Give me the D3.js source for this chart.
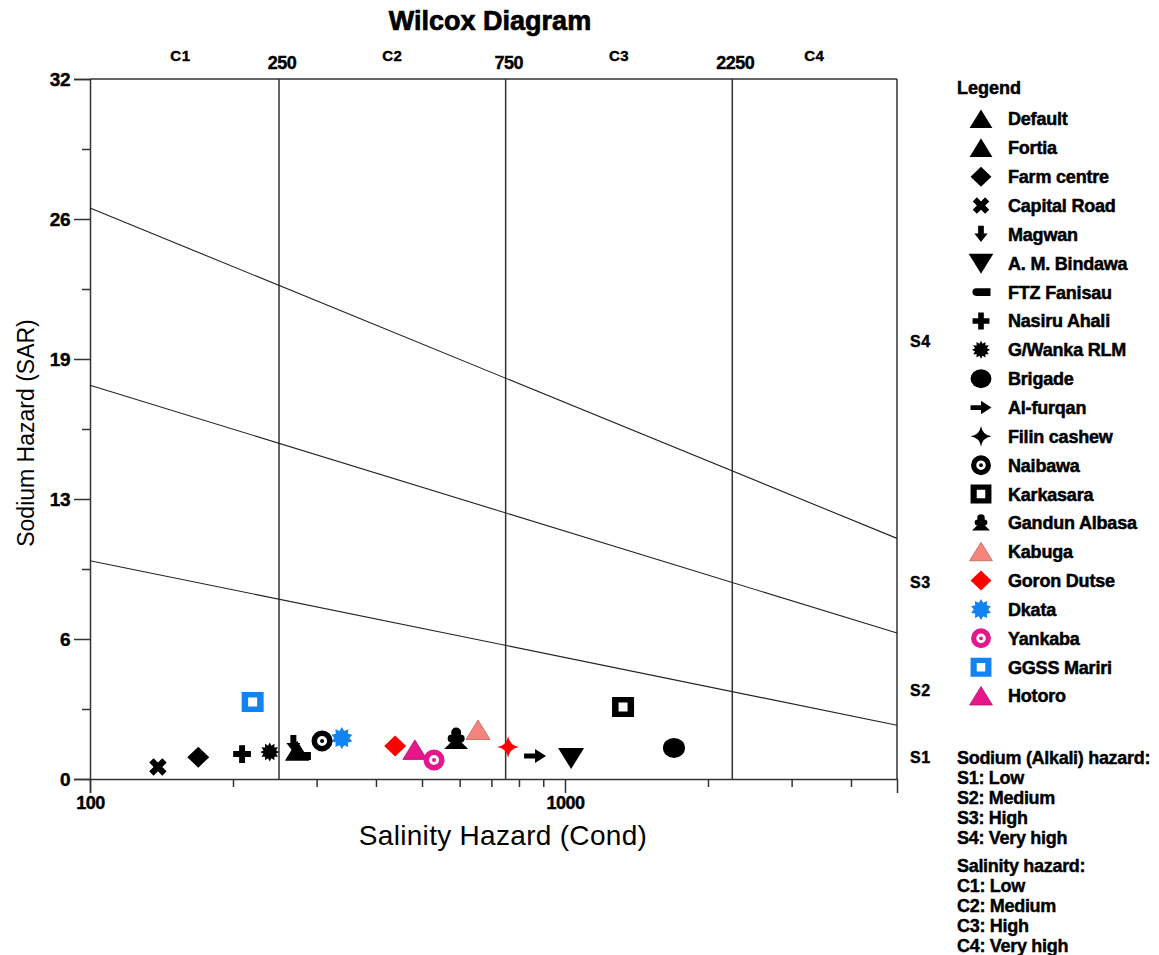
<!DOCTYPE html>
<html>
<head>
<meta charset="utf-8">
<script src="https://cdn.jsdelivr.net/npm/d3@7"></script>
<style>
  html, body { margin: 0; padding: 0; background: #fff; }
  svg text { font-family: "Liberation Sans", Arial, sans-serif; fill: #000; }
</style>
</head>
<body>
<svg id="chart" width="1159" height="955"></svg>
<script>
// Sample sites, their conductivity (µS/cm) and sodium adsorption ratio
const sites = ["Default", "Fortia", "Farm centre", "Capital Road", "Magwan", "A. M. Bindawa",
  "FTZ Fanisau", "Nasiru Ahali", "G/Wanka RLM", "Brigade", "Al-furqan", "Filin cashew",
  "Naibawa", "Karkasara", "Gandun Albasa", "Kabuga", "Goron Dutse", "Dkata", "Yankaba",
  "GGSS Mariri", "Hotoro"];
const conductivity = [273, 273, 169, 139, 268, 1030, 278, 209, 239, 1696, 865, 759,
  308, 1325, 590, 656, 439, 339, 530, 220, 483];
const sar = [1.28, 1.28, 1.0, 0.55, 1.6, 0.96, 1.05, 1.14, 1.23, 1.42, 1.05, 1.46,
  1.74, 3.29, 1.83, 2.24, 1.51, 1.87, 0.87, 3.52, 1.33];
const shapes = ["triUp", "triUp", "diamond", "xcross", "arrowDown", "triDown",
  "pill", "plus", "burst", "ellipse", "arrowRight", "star4",
  "ring", "sqRing", "club", "triUp", "diamond", "burstBig", "ring", "sqRing", "triUp"];
const markColors = ["#000", "#000", "#000", "#000", "#000", "#000", "#000", "#000", "#000",
  "#000", "#000", "#ff0000", "#000", "#000", "#000", "#f4847c", "#ff0000", "#1283f2",
  "#e6178a", "#1283f2", "#e6178a"];
const legendColors = ["#000", "#000", "#000", "#000", "#000", "#000", "#000", "#000", "#000",
  "#000", "#000", "#000", "#000", "#000", "#000", "#f4847c", "#ff0000", "#1283f2",
  "#e6178a", "#1283f2", "#e6178a"];

// Axis ticks
const yTicks = [0, 6.4, 12.8, 19.2, 25.6, 32];
const yTickLabels = ["0", "6", "13", "19", "26", "32"];
const yMinorTicks = [3.2, 9.6, 16, 22.4, 28.8];
const xMajorTicks = [100, 1000];
const xMinorTicks = [200, 300, 400, 500, 600, 700, 800, 900, 2000, 3000, 4000];

// Salinity class boundaries and class labels
const salinityBounds = [250, 750, 2250];
const salinityClasses = ["C1", "C2", "C3", "C4"];
const salinityClassAt = [155, 433, 1300, 3350];

// Sodium hazard boundary lines (conductivity, SAR end points)
const sodiumLines = [
  [[100, 9.98], [5000, 2.46]],
  [[100, 18.0], [5000, 6.67]],
  [[100, 26.1], [5000, 11.0]]
];
const sodiumClasses = ["S1", "S2", "S3", "S4"];
const sodiumClassAt = [1.0, 4.07, 9.0, 20.0];

const sodiumNotes = ["Sodium (Alkali) hazard:", "S1: Low", "S2: Medium", "S3: High", "S4: Very high"];
const salinityNotes = ["Salinity hazard:", "C1: Low", "C2: Medium", "C3: High", "C4: Very high"];

const svg = d3.select("#chart");
const pL = 90, pR = 897, pT = 79, pB = 779;

const x = d3.scaleLog().domain([100, 5000]).range([pL, pR]);
const y = d3.scaleLinear().domain([0, 32]).range([pB, pT]);

const lineCol = "#333";

// Bold label helper
function bold(sel, size, sw) {
  return sel.style("font-size", size + "px").style("font-weight", "bold")
    .attr("stroke", "#000").attr("stroke-width", sw == null ? 0.4 : sw);
}

// Title
bold(svg.append("text").attr("x", 490).attr("y", 30).attr("text-anchor", "middle"), 27, 0.7)
  .text("Wilcox Diagram");

// Plot frame: top and right edges
svg.append("line").attr("x1", pL).attr("x2", pR).attr("y1", pT).attr("y2", pT)
  .attr("stroke", lineCol).attr("stroke-width", 1.5);
svg.append("line").attr("x1", pR).attr("x2", pR).attr("y1", pT).attr("y2", pB)
  .attr("stroke", lineCol).attr("stroke-width", 1.5);

// Left axis (SAR)
const yAxis = d3.axisLeft(y).tickValues(yTicks).tickSize(16).tickPadding(4)
  .tickFormat((d, i) => yTickLabels[i]);
const gy = svg.append("g").attr("transform", `translate(${pL},0)`).call(yAxis);
gy.select(".domain").attr("stroke", lineCol).attr("stroke-width", 1.5);
gy.selectAll(".tick line").attr("stroke", lineCol).attr("stroke-width", 1.5);
bold(gy.selectAll(".tick text"), 19).attr("font-family", null)
  .style("letter-spacing", "-0.5px").attr("dy", "0.36em").attr("x", -20);
const yMinor = d3.axisLeft(y).tickValues(yMinorTicks).tickSize(8).tickFormat("");
const gy2 = svg.append("g").attr("transform", `translate(${pL},0)`).call(yMinor);
gy2.select(".domain").remove();
gy2.selectAll(".tick line").attr("stroke", lineCol).attr("stroke-width", 1.5);

// Bottom axis (conductivity)
const xAxis = d3.axisBottom(x).tickValues(xMajorTicks).tickSize(14).tickPadding(3)
  .tickFormat(d3.format("d"));
const gx = svg.append("g").attr("transform", `translate(0,${pB})`).call(xAxis);
gx.select(".domain").attr("stroke", lineCol).attr("stroke-width", 1.5);
gx.selectAll(".tick line").attr("stroke", lineCol).attr("stroke-width", 1.5);
bold(gx.selectAll(".tick text"), 18).attr("font-family", null).style("letter-spacing", "-0.5px");
const xMinor = d3.axisBottom(x).tickValues(xMinorTicks).tickSize(8).tickFormat("");
const gx2 = svg.append("g").attr("transform", `translate(0,${pB})`).call(xMinor);
gx2.select(".domain").remove();
gx2.selectAll(".tick line").attr("stroke", lineCol).attr("stroke-width", 1.5);

// Axis titles
svg.append("text").attr("transform", `translate(34,433) rotate(-90)`).attr("text-anchor", "middle")
  .style("font-size", "23px").text("Sodium Hazard (SAR)");
svg.append("text").attr("x", 503).attr("y", 845).attr("text-anchor", "middle")
  .style("font-size", "28px").style("letter-spacing", "0.3px").text("Salinity Hazard (Cond)");

// Salinity class boundaries
svg.append("g").selectAll("line").data(salinityBounds).join("line")
  .attr("x1", d => x(d)).attr("x2", d => x(d)).attr("y1", pT).attr("y2", pB)
  .attr("stroke", lineCol).attr("stroke-width", 1.5);
bold(svg.append("g").selectAll("text").data(salinityBounds).join("text")
  .attr("x", d => x(d) + 3).attr("y", 69).attr("text-anchor", "middle"), 18)
  .style("letter-spacing", "-0.5px")
  .text(d => d);
bold(svg.append("g").selectAll("text").data(salinityClasses).join("text")
  .attr("x", (d, i) => x(salinityClassAt[i])).attr("y", 61).attr("text-anchor", "middle"), 15)
  .style("letter-spacing", "0.5px")
  .text(d => d);

// Sodium hazard boundary lines
const lineGen = d3.line().x(d => x(d[0])).y(d => y(d[1]));
svg.append("g").selectAll("path").data(sodiumLines).join("path")
  .attr("d", lineGen).attr("fill", "none").attr("stroke", "#222").attr("stroke-width", 1.1);
bold(svg.append("g").selectAll("text").data(sodiumClasses).join("text")
  .attr("x", 910).attr("y", (d, i) => y(sodiumClassAt[i])).attr("dy", "0.36em"), 16)
  .style("letter-spacing", "0.5px")
  .text(d => d);

// Marker drawing
function starPath(n, ro, ri, rot) {
  const pts = [];
  for (let k = 0; k < 2 * n; k++) {
    const r = k % 2 === 0 ? ro : ri;
    const a = rot + Math.PI * k / n;
    pts.push([r * Math.sin(a), -r * Math.cos(a)]);
  }
  return "M" + pts.map(p => p[0].toFixed(2) + "," + p[1].toFixed(2)).join("L") + "Z";
}
function circlePath(cx, cy, r) {
  return `M${cx - r},${cy}A${r},${r} 0 1 0 ${cx + r},${cy}A${r},${r} 0 1 0 ${cx - r},${cy}Z`;
}
function drawMarker(g, shape, color, s) {
  const inner = g.append("g").attr("transform", `scale(${s})`);
  const p = (d) => inner.append("path").attr("d", d).attr("fill", color);
  switch (shape) {
    case "triUp":
      p("M0,-10L12,9.5L-12,9.5Z").attr("stroke", color === "#000" ? "none" : d3.color(color).darker(0.8))
        .attr("stroke-width", 0.8);
      break;
    case "triDown": p("M-13,-10L13,-10L0,11Z"); break;
    case "diamond": p("M0,-10.5L11,0L0,10.5L-11,0Z"); break;
    case "xcross": p(d3.symbol(d3.symbolCross, 190)()).attr("transform", "rotate(45)"); break;
    case "plus": p(d3.symbol(d3.symbolCross, 175)()); break;
    case "arrowDown": p("M-3,-9L3,-9L3,-1L7,-1L0,8L-7,-1L-3,-1Z"); break;
    case "arrowRight": p("M-11,-2.5L0,-2.5L0,-7L11,0L0,7L0,2.5L-11,2.5Z"); break;
    case "pill": p("M-5,-4L10,-4L10,4L-5,4A4,4 0 0 1 -5,-4Z"); break;
    case "burst": p(starPath(12, 9.5, 6.5, 0)); break;
    case "burstBig": p(starPath(10, 11, 7.5, 0)); break;
    case "star4": p("M0,-11Q1.5,-1.5 11,0Q1.5,1.5 0,11Q-1.5,1.5 -11,0Q-1.5,-1.5 0,-11Z"); break;
    case "ellipse": inner.append("ellipse").attr("rx", 11).attr("ry", 10).attr("fill", color); break;
    case "ring":
      p(circlePath(0, 0, 10.5) + circlePath(0, 0, 5)).attr("fill-rule", "evenodd");
      p(circlePath(0, 0, 2));
      break;
    case "sqRing":
      p("M-11,-10L11,-10L11,10L-11,10Z M-4.5,-4.5L-4.5,4.5L4.5,4.5L4.5,-4.5Z").attr("fill-rule", "evenodd");
      break;
    case "club":
      p(circlePath(0, -6.5, 5));
      p(circlePath(-4.5, -0.5, 4) + circlePath(4.5, -0.5, 4));
      p("M-3,-2L3,-2L5,3L12,10L-12,10L-5,3Z");
      break;
  }
}

// Data points: later entries drawn underneath
const order = d3.range(sites.length).reverse();
const pts = svg.append("g");
order.forEach(i => {
  const g = pts.append("g").attr("transform", `translate(${x(conductivity[i])},${y(sar[i])})`);
  drawMarker(g, shapes[i], markColors[i], 1);
});

// Legend
const lg = svg.append("g");
bold(lg.append("text").attr("x", 957).attr("y", 94), 18, 0.5).text("Legend");
const rowY = d3.scaleLinear().domain([0, sites.length - 1]).range([119, 696]);
sites.forEach((name, i) => {
  const g = lg.append("g").attr("transform", `translate(981,${rowY(i)})`);
  drawMarker(g, shapes[i], legendColors[i], shapes[i] === "club" ? 0.75 : 0.95);
  bold(lg.append("text").attr("x", 1008).attr("y", rowY(i)).attr("dy", "0.36em"), 18, 0.5)
    .style("letter-spacing", "-0.2px").text(name);
});

// Hazard class notes
const notes = svg.append("g");
sodiumNotes.forEach((t, i) => {
  bold(notes.append("text").attr("x", 957).attr("y", 758 + i * 20).attr("dy", "0.36em"), 18, 0.4)
    .style("letter-spacing", "-0.3px").text(t);
});
salinityNotes.forEach((t, i) => {
  bold(notes.append("text").attr("x", 957).attr("y", 866 + i * 20).attr("dy", "0.36em"), 18, 0.4)
    .style("letter-spacing", "-0.3px").text(t);
});
</script>
</body>
</html>
